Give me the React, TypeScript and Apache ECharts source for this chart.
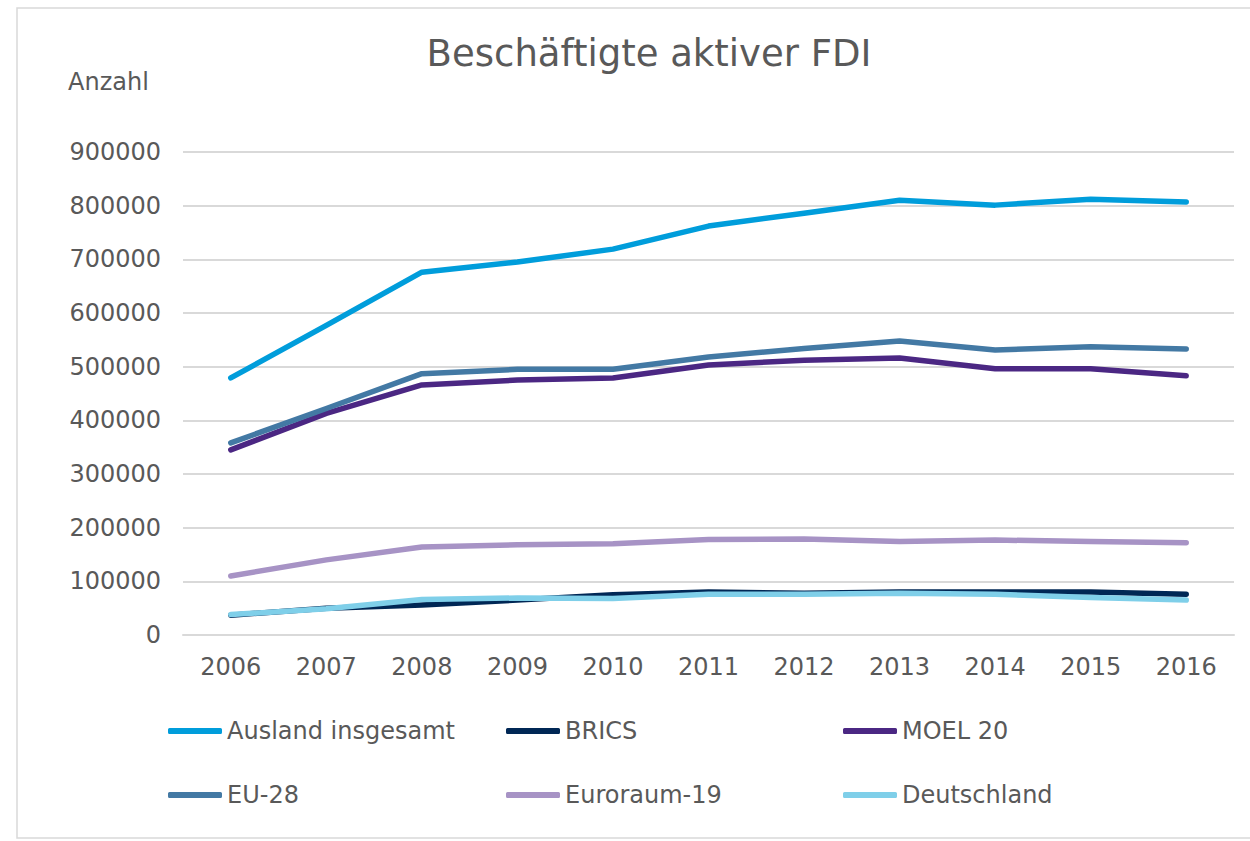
import React, { useEffect, useRef } from "react";
import * as echarts from "echarts";

const years = ["2006", "2007", "2008", "2009", "2010", "2011", "2012", "2013", "2014", "2015", "2016"];
const auslandInsgesamt = [479000, 577000, 676000, 695000, 719000, 762000, 786000, 810000, 801000, 812000, 807000];
const brics = [37000, 50000, 56000, 65000, 75000, 80000, 78000, 80000, 80000, 80000, 76000];
const moel20 = [345000, 413000, 466000, 475000, 479000, 503000, 512000, 516000, 496000, 496000, 483000];
const eu28 = [358000, 422000, 487000, 495000, 495000, 518000, 534000, 548000, 531000, 537000, 533000];
const euroraum19 = [110000, 140000, 164000, 168000, 170000, 178000, 179000, 174000, 177000, 174000, 172000];
const deutschland = [38000, 49000, 66000, 69000, 68000, 76000, 76000, 78000, 76000, 70000, 65000];

const seriesDefs = [
  { name: "Ausland insgesamt", data: auslandInsgesamt, color: "#009ddb" },
  { name: "BRICS", data: brics, color: "#002755" },
  { name: "MOEL 20", data: moel20, color: "#4b2783" },
  { name: "EU-28", data: eu28, color: "#4379a4" },
  { name: "Euroraum-19", data: euroraum19, color: "#a793c5" },
  { name: "Deutschland", data: deutschland, color: "#7fcfe9" },
];

const legendPos = [
  { left: 168, top: 719 },
  { left: 506, top: 719 },
  { left: 843, top: 719 },
  { left: 168, top: 783 },
  { left: 506, top: 783 },
  { left: 843, top: 783 },
];

const FONT = "DejaVu Sans";
const TEXT = "#595959";

export default function App() {
  const ref = useRef<HTMLDivElement>(null);
  useEffect(() => {
    if (!ref.current) return;
    const chart = echarts.init(ref.current, undefined, { renderer: "svg" });
    chart.setOption({
      animation: false,
      backgroundColor: "#ffffff",
      title: {
        text: "Beschäftigte aktiver FDI",
        left: 644,
        textAlign: "center",
        top: 30,
        textStyle: { fontFamily: FONT, fontSize: 37, fontWeight: "normal", color: TEXT },
      },
      graphic: [
        {
          type: "rect",
          shape: { x: 17, y: 8, width: 1260, height: 830 },
          style: { fill: "none", stroke: "#d9d9d9", lineWidth: 1.5 },
          silent: true,
        },
        {
          type: "text",
          x: 68,
          y: 70,
          style: { text: "Anzahl", font: `24px '${FONT}'`, fill: TEXT },
        },
      ],
      legend: seriesDefs.map((s, i) => ({
        data: [s.name],
        left: legendPos[i].left,
        top: legendPos[i].top,
        padding: 0,
        icon: "roundRect",
        itemWidth: 54,
        itemHeight: 6,
        itemGap: 0,
        textStyle: { fontFamily: FONT, fontSize: 24, color: TEXT, padding: [0, 0, 0, 0] },
        selectedMode: false,
      })),
      grid: { left: 183, right: 16, top: 152, bottom: 206, containLabel: false },
      xAxis: {
        type: "category",
        data: years,
        boundaryGap: true,
        axisLine: { show: true, lineStyle: { color: "#d9d9d9", width: 2 } },
        axisTick: { show: false },
        axisLabel: { fontFamily: FONT, fontSize: 24, color: TEXT, margin: 20 },
      },
      yAxis: {
        type: "value",
        min: 0,
        max: 900000,
        interval: 100000,
        axisLine: { show: false },
        axisTick: { show: false },
        splitLine: { lineStyle: { color: "#d9d9d9", width: 2 } },
        axisLabel: {
          fontFamily: FONT,
          fontSize: 24,
          color: TEXT,
          margin: 22,
          formatter: (v: number) => String(v),
        },
      },
      series: seriesDefs.map((s) => ({
        name: s.name,
        type: "line",
        data: s.data,
        symbol: "none",
        smooth: false,
        lineStyle: { color: s.color, width: 5.5, cap: "round", join: "round" },
        itemStyle: { color: s.color },
      })),
    });
    return () => chart.dispose();
  }, []);
  return (
    <div
      ref={ref}
      style={{ position: "fixed", left: 0, top: 0, width: 1250, height: 841 }}
    />
  );
}
